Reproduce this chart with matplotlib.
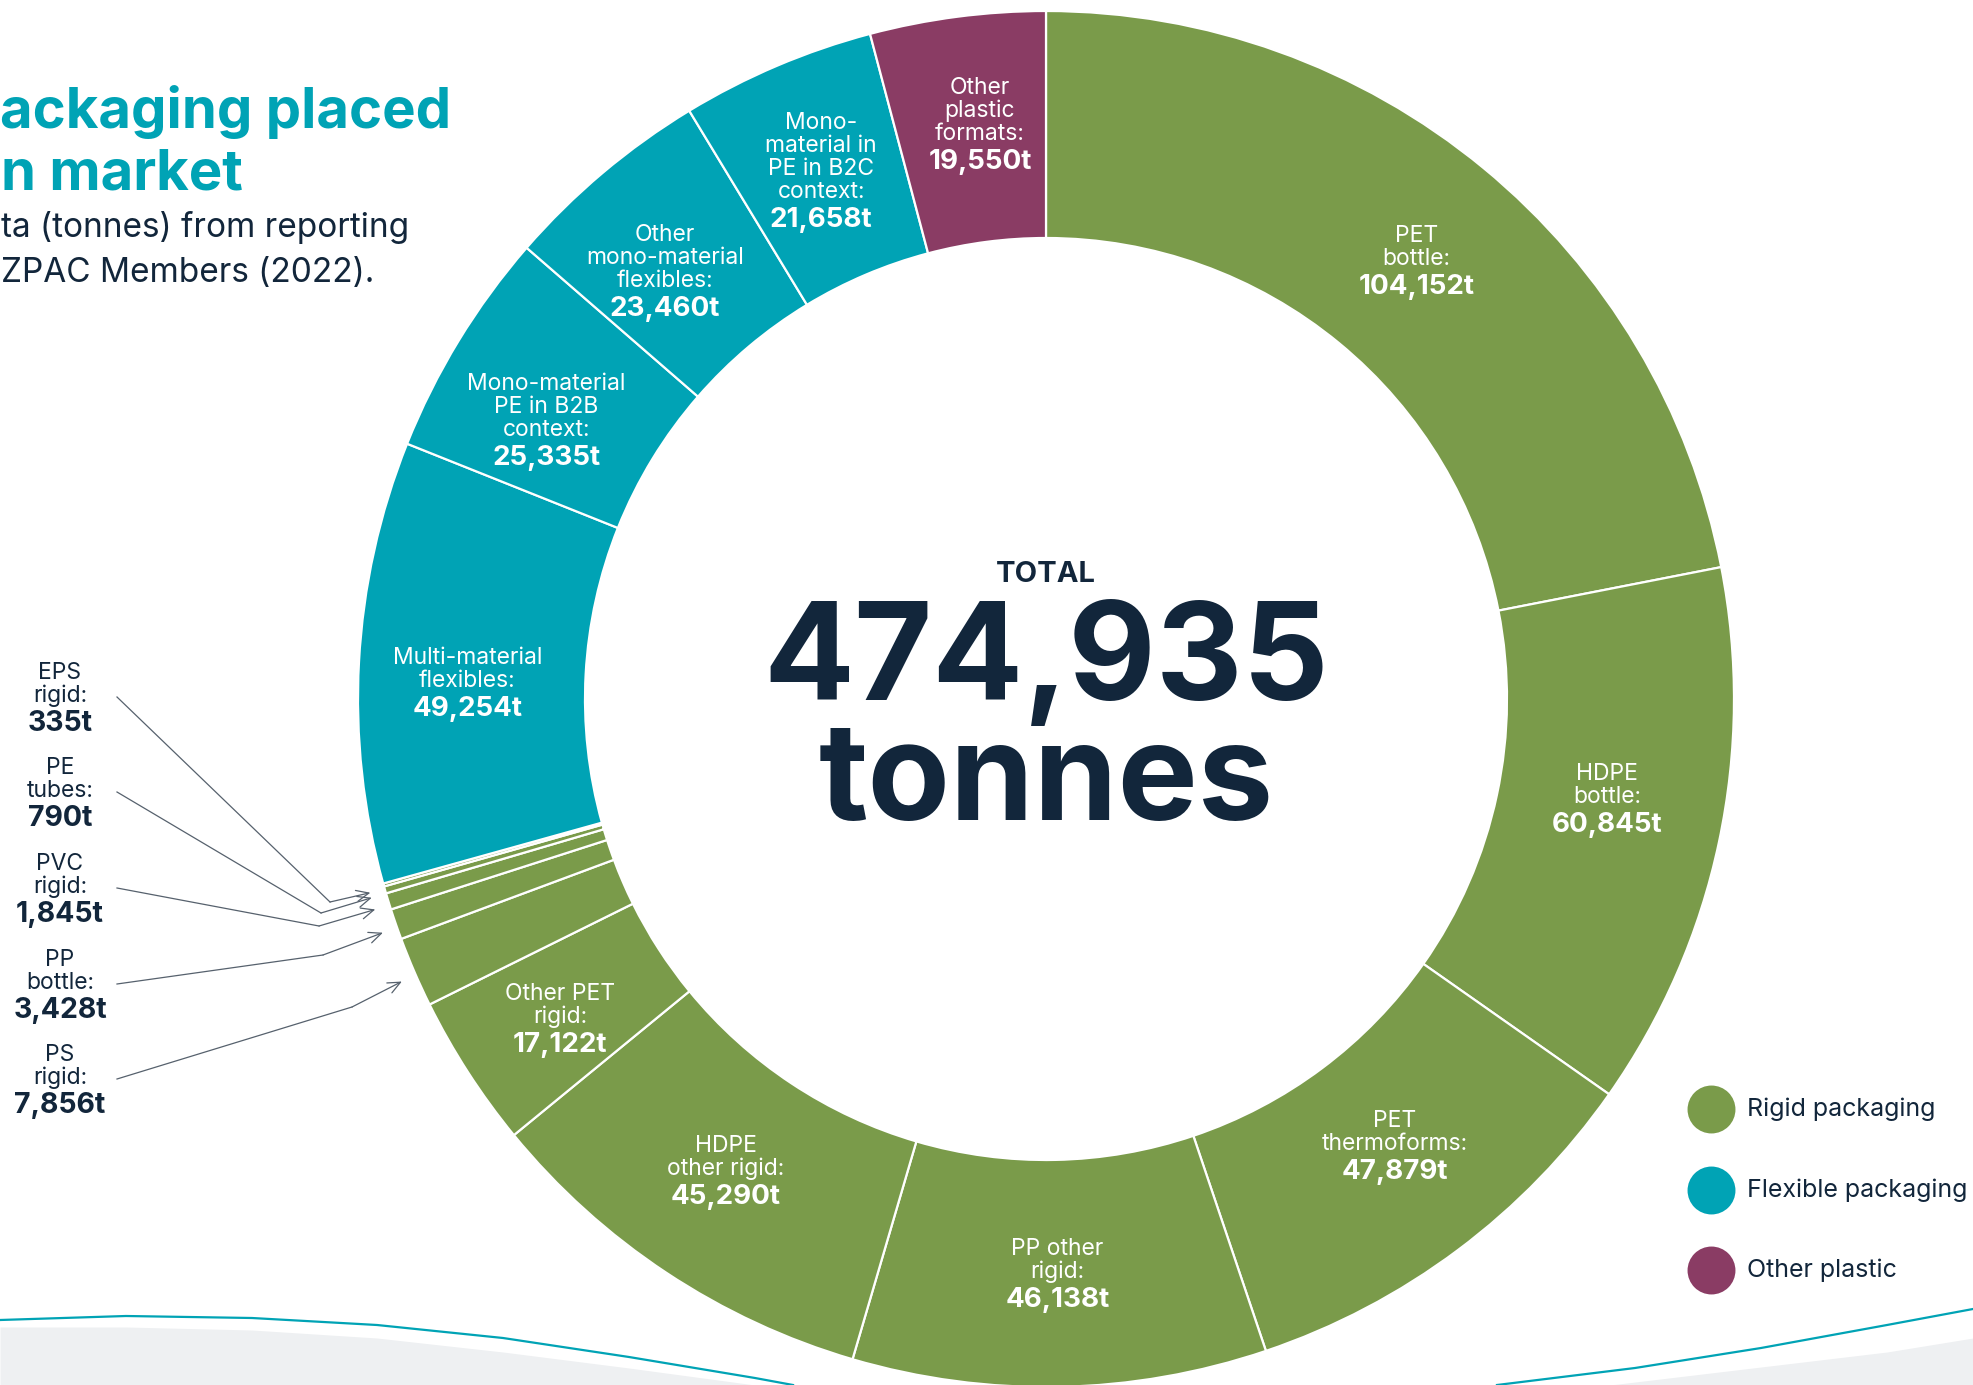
import numpy as np
import matplotlib.pyplot as plt

W, H = 1973, 1385
plt.rcParams['font.family'] = ['Inter', 'DejaVu Sans']

# slices, clockwise from 12 o'clock
names = ["PET\nbottle:", "HDPE\nbottle:", "PET\nthermoforms:", "PP other\nrigid:",
         "HDPE\nother rigid:", "Other PET\nrigid:", "PS\nrigid:", "PP\nbottle:",
         "PVC\nrigid:", "PE\ntubes:", "EPS\nrigid:", "Multi-material\nflexibles:",
         "Mono-material\nPE in B2B\ncontext:", "Other\nmono-material\nflexibles:",
         "Mono-\nmaterial in\nPE in B2C\ncontext:", "Other\nplastic\nformats:"]
tonnes = [104152, 60845, 47879, 46138, 45290, 17122, 7856, 3428, 1845, 790, 335,
          49254, 25335, 23460, 21658, 19550]
groups = ["Rigid packaging"] * 11 + ["Flexible packaging"] * 4 + ["Other plastic"]
total_label = "474,935"

# small slices labelled outside the ring (top to bottom on the left)
callouts = ["EPS\nrigid:", "PE\ntubes:", "PVC\nrigid:", "PP\nbottle:", "PS\nrigid:"]

colors = {"Rigid packaging": "#7a9b4a", "Flexible packaging": "#00a3b5",
          "Other plastic": "#8a3c64"}
navy = "#12263b"
teal = "#00a3b5"

# nudges (px) for the in-ring labels, same order as names
nudge = [(5, 5), (-1, -20), (5, -14), (0, 0), (-3, -8), (-3, 8), None, None, None,
         None, None, (-5, 15), (-9, 20), (-11, 11), (0, 0), (8, -5)]

fig = plt.figure(figsize=(W / 100, H / 100), dpi=100)
ax = fig.add_axes([0, 0, 1, 1])

# background wave
wave_x = [0, 126, 252, 377, 503, 629, 755, 793]
wave_y = [1320, 1316, 1318, 1325, 1338, 1357, 1378, 1385]
wave2_x = [1497, 1635, 1761, 1887, 1973]
wave2_y = [1385, 1368, 1348, 1325, 1309]
grey_x = [0, 126, 252, 377, 503, 629, 755]
grey_y = [1327, 1327, 1330, 1338, 1352, 1368, 1385]
grey2_x = [1610, 1761, 1887, 1973]
grey2_y = [1385, 1367, 1352, 1338]
ax.fill_between(grey_x, grey_y, H, color="#eef0f2", lw=0, zorder=0)
ax.fill_between(grey2_x, grey2_y, H, color="#eef0f2", lw=0, zorder=0)
ax.plot(wave_x, wave_y, color=teal, lw=1.6, zorder=1)
ax.plot(wave2_x, wave2_y, color=teal, lw=1.6, zorder=1)

# donut
cx, cy, r_out, ring = 1046, 699, 688, 227
wedges, _ = ax.pie(tonnes, colors=[colors[g] for g in groups], startangle=-90,
                   counterclock=True, center=(cx, cy), radius=r_out,
                   wedgeprops=dict(width=ring, edgecolor="white", linewidth=1.6))
for w in wedges:
    w.set_zorder(2)

r_mid = r_out - ring / 2
for i, w in enumerate(wedges):
    if names[i] in callouts:
        continue
    th = np.deg2rad((w.theta1 + w.theta2) / 2)
    x = cx + r_mid * np.cos(th) + nudge[i][0]
    y = cy + r_mid * np.sin(th) + nudge[i][1]
    lines = names[i].split("\n")
    n = len(lines)
    top = y - (21 + 23 * n) / 2 + 15
    for k, ln in enumerate(lines):
        ax.text(x, top + 23 * k, ln, color="white", fontsize=16.5, ha="center",
                va="baseline", zorder=5)
    ax.text(x, top + 23 * (n - 1) + 29, f"{tonnes[i]:,}t", color="white",
            fontsize=20, fontweight="bold", ha="center", va="baseline", zorder=5)

# outside labels with leader arrows
label_mid_y = [695, 790, 886, 982, 1077]
bends = [(330, 902), (321, 913), (319, 926), (323, 955), (352, 1007)]
for name, ym, bend in zip(callouts, label_mid_y, bends):
    i = names.index(name)
    w = wedges[i]
    th = np.deg2rad((w.theta1 + w.theta2) / 2)
    tip = (cx + 1.02 * r_out * np.cos(th), cy + 1.02 * r_out * np.sin(th) + 4)
    lines = name.split("\n")
    ax.text(60, ym - 23 + 7, lines[0], color=navy, fontsize=16.5, ha="center", va="baseline")
    ax.text(60, ym + 7, lines[1], color=navy, fontsize=16.5, ha="center", va="baseline")
    ax.text(60, ym + 36, f"{tonnes[i]:,}t", color=navy, fontsize=20.5,
            fontweight="bold", ha="center", va="baseline")
    ax.plot([117, bend[0]], [ym + 2, bend[1]], color="#56616d", lw=0.9, zorder=3)
    ax.annotate("", xy=tip, xytext=bend,
                arrowprops=dict(arrowstyle="->,head_length=0.9,head_width=0.4",
                                color="#56616d", lw=0.9, shrinkA=0, shrinkB=0),
                zorder=3)

# centre total
ax.text(cx, 582, "TOTAL", color=navy, fontsize=21, fontweight="bold",
        ha="center", va="baseline")
ax.text(cx, 700, total_label, color=navy, fontsize=97, fontweight="bold",
        ha="center", va="baseline")
ax.text(cx, 820, "tonnes", color=navy, fontsize=97, fontweight="bold",
        ha="center", va="baseline")

# title block (only the part visible on this page)
ax.text(0, 128, "ackaging placed", color=teal, fontsize=40.5, fontweight="bold",
        ha="left", va="baseline")
ax.text(1, 190, "n market", color=teal, fontsize=40.5, fontweight="bold",
        ha="left", va="baseline")
ax.text(1, 237, "ta (tonnes) from reporting", color=navy, fontsize=24,
        ha="left", va="baseline")
ax.text(1, 282, "ZPAC Members (2022).", color=navy, fontsize=24,
        ha="left", va="baseline")

# legend
for k, g in enumerate(["Rigid packaging", "Flexible packaging", "Other plastic"]):
    yy = 1109 + 80.5 * k
    ax.scatter([1711], [yy], s=1190, color=colors[g], lw=0, zorder=4)
    ax.text(1747, yy + 7, g, color=navy, fontsize=18, ha="left", va="baseline")

ax.set_xlim(0, W)
ax.set_ylim(H, 0)
ax.set_aspect("equal")
ax.axis("off")
fig.savefig("out.png", dpi=100)
